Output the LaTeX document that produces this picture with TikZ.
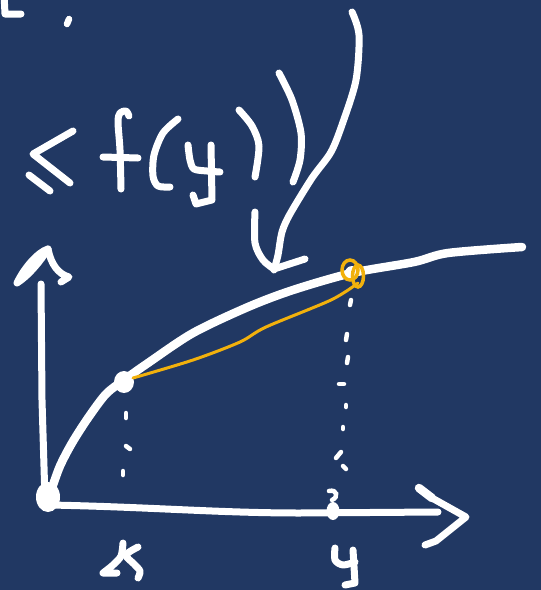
\documentclass[tikz,border=0pt]{standalone}
\definecolor{bg}{RGB}{33,56,99}
\definecolor{gold}{RGB}{242,177,12}
\tikzset{
  pen/.style={white,line width=7pt,line cap=round,line join=round},
  thickpen/.style={white,line width=8.5pt,line cap=round,line join=round},
  dotpen/.style={white,line width=4.5pt,line cap=round},
  goldpen/.style={gold,line width=3pt,line cap=round,line join=round},
}
\begin{document}
\begin{tikzpicture}[x=1pt,y=-1pt]
\fill[bg] (0,0) rectangle (541,590);
\useasboundingbox (0,0) rectangle (541,590);

% top-left fragment
\draw[pen] (4,-6) -- (5,14) -- (21,14);
\draw[white,line width=6.5pt,line cap=round] (67,24) -- (69,19);

% <= sign
\draw[pen] (73,131) -- (33,154) -- (70,183);
\draw[pen] (29,175) -- (50,191);
% f
\draw[pen] plot[smooth] coordinates {(121,189) (120,150) (118,122) (120,113) (126,111) (129,116)};
\draw[pen] (103,157) -- (138,158);
% (
\draw[pen] plot[smooth] coordinates {(178,119) (163,133) (154,155) (153,176) (158,186) (170,187)};
% y
\draw[pen] plot[smooth] coordinates {(188,145) (190,160) (194,169) (207,171) (220,172)};
\draw[pen] (211,145) -- (212,200) -- (196,204) -- (193,195);
% ) )
\draw[pen] plot[smooth] coordinates {(239,110) (252,126) (259,146) (255,177)};
\draw[pen] plot[smooth] coordinates {(279,73) (292,100) (301,133) (300,160) (293,182)};

% big arrow
\draw[pen] plot[smooth] coordinates {(352,12) (359,35) (356,80) (343,122) (331,152) (312,178) (290,214) (282,232) (278,255) (274,270)};
\draw[pen] plot[smooth] coordinates {(255,212) (255,243) (263,260) (274,269)} -- (305,259);

% y axis
\draw[pen] (41,284) -- (42,400) -- (45,500);
\draw[pen] (17,283) .. controls (24,268) and (38,252) .. (48,249) .. controls (40,262) and (28,276) .. (17,283);
\draw[pen] (48,249) .. controls (51,264) and (58,274) .. (69,277) -- (61,282);

% x axis
\draw[pen] (50,505) .. controls (150,507) and (220,513) .. (300,513) -- (438,512);
\draw[thickpen] (419,488) -- (432,498);
\draw[pen] (432,498) -- (466,517) -- (436,541) -- (425,545);

% origin blob
\fill[white] (48,497) ellipse (12pt and 15pt);

% curve
\draw[thickpen] plot[smooth] coordinates {(52,488) (60,466) (72,443) (88,418) (106,394) (124,380) (148,363) (193,333) (248,307) (293,290) (352,273) (414,262) (448,253) (522,247)};
\fill[white] (124,382) ellipse (10pt and 11pt);
\fill[white] (352,273) circle (7pt);

% yellow chord
\draw[goldpen] plot[smooth] coordinates {(133,378) (193,360) (240,342) (266,327) (331,300) (358,283)};
\draw[gold,line width=3.5pt] (350,270) ellipse (8pt and 10pt);
\draw[gold,line width=3.5pt] (358,276) ellipse (5.5pt and 11pt);

% dotted verticals
\draw[dotpen] (126,413) -- (126,418);
\draw[dotpen] (126,446) -- (130,449);
\draw[dotpen] (123,471) -- (123,475);
\draw[dotpen] (351,300) -- (350,305);
\draw[dotpen] (347,334) -- (346,340);
\draw[dotpen] (348,357) -- (347,363);
\draw[dotpen] (339,384) -- (344,384);
\draw[dotpen] (346,405) -- (346,407);
\draw[dotpen] (343,427) -- (343,429);
\draw[dotpen] (336,458) -- (341,452);
\draw[dotpen] (343,466) -- (346,469);

% tick at y
\fill[white] (333,511) ellipse (6.5pt and 9pt);
\draw[white,line width=4.5pt,line cap=round] (329,491) .. controls (337,489) and (339,497) .. (332,500);

% label x
\draw[pen] plot[smooth] coordinates {(123,543) (121,556) (113,565) (103,573)} -- (117,573);
\draw[pen] plot[smooth] coordinates {(138,547) (126,555) (134,564) (140,571) (138,578)};

% label y
\draw[pen] plot[smooth] coordinates {(335,548) (335,560) (343,565) (355,562)};
\draw[pen] (353,550) -- (355,583) -- (345,585);
\end{tikzpicture}
\end{document}
